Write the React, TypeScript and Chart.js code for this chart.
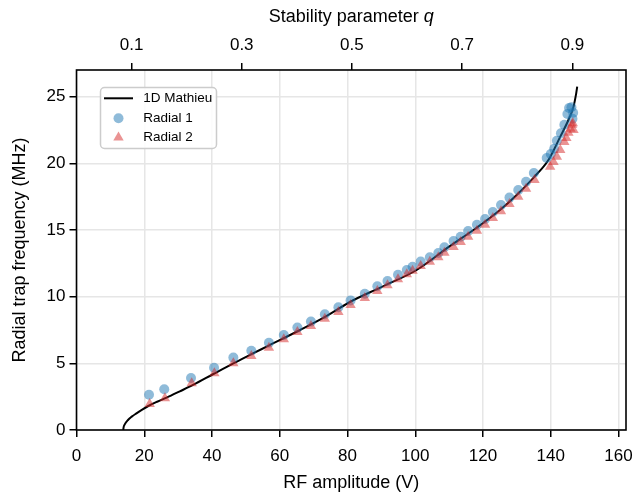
import React, { useEffect, useRef } from 'react';
import { Chart, registerables } from 'chart.js';

Chart.register(...registerables);

const seriesNames = ['1D Mathieu', 'Radial 1', 'Radial 2'];

// 1D Mathieu theory curve
const mathieuV = [13.8, 13.9, 14.2, 15.2, 16.4, 17.7, 19.4, 21.2, 23.8, 26.6, 30.5, 34.4, 40.4, 46.3, 51.2, 56.1, 66.0, 73.5, 80.7, 90.0, 100.4, 110.0, 118.0, 125.0, 130.0, 135.0, 139.3, 142.8, 145.2, 146.7, 147.5, 147.8];
const mathieuF = [0, 0.2, 0.4, 0.75, 1.02, 1.25, 1.53, 1.8, 2.12, 2.43, 2.9, 3.38, 4.2, 5.0, 5.63, 6.25, 7.5, 8.5, 9.6, 10.72, 12.0, 13.75, 15.15, 16.5, 17.65, 18.95, 20.25, 22.0, 23.25, 24.25, 25.25, 25.75];

// Radial 1 (circles)
const radial1V = [21.4, 25.9, 33.8, 40.6, 46.3, 51.6, 56.8, 61.2, 65.2, 69.2, 73.3, 77.3, 80.9, 85.1, 88.8, 91.8, 94.9, 97.5, 99.2, 101.6, 104.3, 106.8, 108.6, 111.3, 113.4, 115.6, 118.2, 120.6, 122.9, 125.3, 127.8, 130.4, 132.7, 135.0, 138.8, 140.0, 141.0, 141.8, 143.0, 144.0, 144.9, 145.4, 146.1, 146.6, 146.4];
const radial1F = [2.65, 3.05, 3.9, 4.67, 5.43, 5.95, 6.55, 7.13, 7.68, 8.13, 8.68, 9.2, 9.72, 10.22, 10.78, 11.18, 11.65, 12.0, 12.25, 12.63, 12.95, 13.28, 13.7, 14.18, 14.5, 14.92, 15.4, 15.82, 16.35, 16.88, 17.43, 18.0, 18.62, 19.28, 20.4, 20.7, 21.1, 21.7, 22.25, 22.9, 23.7, 24.15, 24.2, 23.8, 23.35];

// Radial 2 (triangles)
const radial2V = [21.6, 26.1, 34.0, 40.7, 46.3, 51.6, 56.8, 61.2, 65.2, 69.2, 73.3, 77.3, 80.9, 85.1, 88.8, 91.8, 94.9, 97.5, 99.2, 101.6, 104.3, 106.8, 108.6, 111.3, 113.4, 115.6, 118.2, 120.6, 122.9, 125.3, 127.8, 130.4, 132.7, 135.2, 139.8, 140.8, 141.8, 142.8, 144.0, 144.6, 145.2, 145.8, 146.3, 146.7, 146.5];
const radial2F = [1.95, 2.38, 3.5, 4.25, 5.0, 5.55, 6.17, 6.8, 7.35, 7.8, 8.35, 8.85, 9.38, 9.9, 10.42, 10.85, 11.3, 11.68, 11.95, 12.3, 12.62, 12.95, 13.3, 13.72, 14.1, 14.5, 14.95, 15.4, 15.9, 16.4, 16.95, 17.5, 18.1, 18.75, 19.75, 20.1, 20.5, 21.0, 21.6, 21.9, 22.3, 22.6, 22.9, 22.5, 23.0];

const xTicks = [0, 20, 40, 60, 80, 100, 120, 140, 160];
const yTicks = [0, 5, 10, 15, 20, 25];
const qTicks = [0.1, 0.3, 0.5, 0.7, 0.9];

const X_MAX = 162.2;
const Y_MAX = 27;
const VOLTS_PER_Q = 162.6;

const FONT = "'Liberation Sans', Arial, Helvetica, sans-serif";
const BLUE = 'rgba(31,119,180,0.5)';
const RED = 'rgba(214,39,40,0.5)';

const toPts = (xs: number[], ys: number[]) => xs.map((x, i) => ({ x, y: ys[i] }));

const zeroSidePadding = (s: any) => {
  s.paddingLeft = 0;
  s.paddingRight = 0;
  s.paddingTop = 0;
  s.paddingBottom = 0;
};

export default function App() {
  const ref = useRef<HTMLCanvasElement | null>(null);

  useEffect(() => {
    document.body.style.margin = '0';
    const canvas = ref.current;
    if (!canvas) return;

    const framePlugin = {
      id: 'frameAndLegend',
      afterDraw(chart: any) {
        const { ctx, chartArea: a } = chart;
        ctx.save();
        // spines
        ctx.strokeStyle = '#000';
        ctx.lineWidth = 1.6;
        ctx.strokeRect(a.left, a.top, a.right - a.left, a.bottom - a.top);

        // top axis title with italic q
        const part1 = 'Stability parameter ';
        const part2 = 'q';
        ctx.fillStyle = '#000';
        ctx.textBaseline = 'middle';
        ctx.font = `18px ${FONT}`;
        const w1 = ctx.measureText(part1).width;
        ctx.font = `italic 18px ${FONT}`;
        const w2 = ctx.measureText(part2).width;
        const cx = (a.left + a.right) / 2;
        const startX = cx - (w1 + w2) / 2;
        const ty = 17;
        ctx.textAlign = 'left';
        ctx.font = `18px ${FONT}`;
        ctx.fillText(part1, startX, ty);
        ctx.font = `italic 18px ${FONT}`;
        ctx.fillText(part2, startX + w1, ty);

        // legend
        const bx = 100.5, by = 87.5, bw = 116, bh = 61;
        ctx.beginPath();
        (ctx as any).roundRect(bx, by, bw, bh, 4);
        ctx.fillStyle = 'rgba(255,255,255,0.85)';
        ctx.fill();
        ctx.strokeStyle = '#cccccc';
        ctx.lineWidth = 1.5;
        ctx.stroke();

        const rows = [98.3, 118.2, 137.0];
        // line sample
        ctx.strokeStyle = '#000';
        ctx.lineWidth = 2;
        ctx.beginPath();
        ctx.moveTo(104, rows[0]);
        ctx.lineTo(133, rows[0]);
        ctx.stroke();
        // circle sample
        ctx.fillStyle = BLUE;
        ctx.beginPath();
        ctx.arc(118.5, rows[1], 5, 0, Math.PI * 2);
        ctx.fill();
        // triangle sample
        const r = 6;
        const tcx = 118.5, tcy = rows[2] + 0.5;
        ctx.fillStyle = RED;
        ctx.beginPath();
        for (let k = 0; k < 3; k++) {
          const ang = -Math.PI / 2 + (k * 2 * Math.PI) / 3;
          const px = tcx + Math.cos(ang) * r;
          const py = tcy + Math.sin(ang) * r;
          if (k === 0) ctx.moveTo(px, py); else ctx.lineTo(px, py);
        }
        ctx.closePath();
        ctx.fill();

        ctx.fillStyle = '#000';
        ctx.font = `13.5px ${FONT}`;
        ctx.textAlign = 'left';
        ctx.textBaseline = 'middle';
        seriesNames.forEach((name, i) => ctx.fillText(name, 143.3, rows[i]));
        ctx.restore();
      },
    };

    const tickFont = { size: 17, family: FONT };
    const titleFont = { size: 18, family: FONT, lineHeight: 1.0 };
    const gridBase = {
      color: '#e6e6e6',
      lineWidth: 1.5,
      tickColor: '#000',
      tickLength: 7,
      tickWidth: 1.5,
    };

    const chart = new Chart(canvas, {
      type: 'scatter',
      data: {
        datasets: [
          {
            label: seriesNames[0],
            data: toPts(mathieuV, mathieuF),
            showLine: true,
            borderColor: '#000',
            borderWidth: 2,
            pointRadius: 0,
            cubicInterpolationMode: 'monotone',
            order: 3,
          } as any,
          {
            label: seriesNames[1],
            data: toPts(radial1V, radial1F),
            backgroundColor: BLUE,
            borderWidth: 0,
            pointRadius: 5,
            pointStyle: 'circle',
            order: 2,
          },
          {
            label: seriesNames[2],
            data: toPts(radial2V, radial2F),
            backgroundColor: RED,
            borderWidth: 0,
            pointRadius: 6,
            pointStyle: 'triangle',
            order: 1,
          },
        ],
      },
      options: {
        animation: false,
        responsive: false,
        devicePixelRatio: 1,
        layout: { padding: { left: 0, right: 10, top: 0, bottom: 0 } },
        plugins: { legend: { display: false }, tooltip: { enabled: false } },
        scales: {
          x: {
            type: 'linear',
            position: 'bottom',
            min: 0,
            max: X_MAX,
            afterBuildTicks: (s: any) => { s.ticks = xTicks.map((v) => ({ value: v })); },
            afterFit: (s: any) => { s.height = 63; zeroSidePadding(s); },
            grid: { ...gridBase, drawOnChartArea: true },
            border: { display: false },
            ticks: { color: '#000', font: tickFont, padding: 9, maxRotation: 0, autoSkip: false, callback: (v: any) => String(v) },
            title: { display: true, text: 'RF amplitude (V)', color: '#000', font: titleFont, padding: { top: 0, bottom: 1 } },
          },
          xq: {
            type: 'linear',
            position: 'top',
            min: 0,
            max: X_MAX / VOLTS_PER_Q,
            afterBuildTicks: (s: any) => { s.ticks = qTicks.map((v) => ({ value: v })); },
            afterFit: (s: any) => { s.height = 70; zeroSidePadding(s); },
            grid: { ...gridBase, drawOnChartArea: false },
            border: { display: false },
            ticks: { color: '#000', font: tickFont, padding: 7, maxRotation: 0, autoSkip: false, callback: (v: any) => Number(v).toFixed(1) },
          },
          y: {
            type: 'linear',
            position: 'left',
            min: 0,
            max: Y_MAX,
            afterBuildTicks: (s: any) => { s.ticks = yTicks.map((v) => ({ value: v })); },
            afterFit: (s: any) => { s.width = 76.5; zeroSidePadding(s); },
            grid: { ...gridBase, drawOnChartArea: true },
            border: { display: false },
            ticks: { color: '#000', font: tickFont, padding: 4, autoSkip: false, callback: (v: any) => String(v) },
            title: { display: true, text: 'Radial trap frequency (MHz)', color: '#000', font: { size: 18, family: FONT }, padding: { top: 9, bottom: 0 } },
          },
        },
      } as any,
      plugins: [framePlugin],
    });

    return () => chart.destroy();
  }, []);

  return (
    <div style={{ width: 636, height: 493 }}>
      <canvas ref={ref} width={636} height={493} style={{ display: 'block' }} />
    </div>
  );
}
